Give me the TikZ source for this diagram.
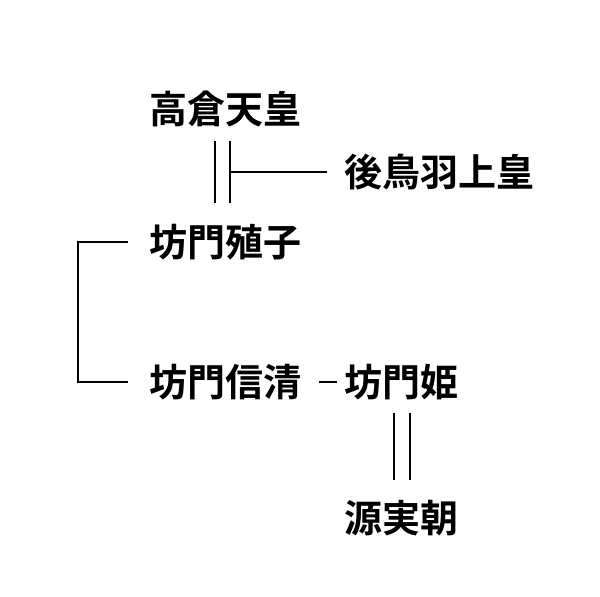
\documentclass[tikz,border=0pt]{standalone}
\usepackage{fontspec}
\newfontfamily\jpfont{Noto Sans CJK JP}[BoldFont={Noto Sans CJK JP Bold}]
\usetikzlibrary{positioning}

\begin{document}
\begin{tikzpicture}[x=1pt, y=1pt, line width=2pt, every node/.style={inner sep=0pt, anchor=west, font=\jpfont\bfseries\fontsize{38}{40}\selectfont}]
    \useasboundingbox (0,0) rectangle (600,597);
    \node (takakura) at (148,488) {高倉天皇};
    \node (gotoba) at (343,425) {後鳥羽上皇};
    \node (shokushi) at (148,355) {坊門殖子};
    \node (nobukiyo) at (148,215) {坊門信清};
    \node (hime) at (343,215) {坊門姫};
    \node (sanetomo) at (343,79) {源実朝};

    \draw[shorten <=13pt, shorten >=20pt] ([xshift=-10pt]takakura.south) -- ([xshift=-10pt]takakura.south |- shokushi.north);
    \draw[shorten <=13pt, shorten >=20pt] ([xshift=5pt]takakura.south) -- ([xshift=5pt]takakura.south |- shokushi.north);
    \draw[shorten >=16pt] ([xshift=5pt]takakura.south |- gotoba.west) -- (gotoba.west);
    \draw[shorten <=20pt, shorten >=20pt] (shokushi.west) -- ++(-70,0) |- (nobukiyo.west);
    \draw[shorten <=17pt, shorten >=6pt] (nobukiyo.east) -- (hime.west);
    \draw[shorten <=12pt, shorten >=19pt] ([xshift=-7pt]hime.south) -- ([xshift=-7pt]hime.south |- sanetomo.north);
    \draw[shorten <=12pt, shorten >=19pt] ([xshift=9pt]hime.south) -- ([xshift=9pt]hime.south |- sanetomo.north);
\end{tikzpicture}
\end{document}
